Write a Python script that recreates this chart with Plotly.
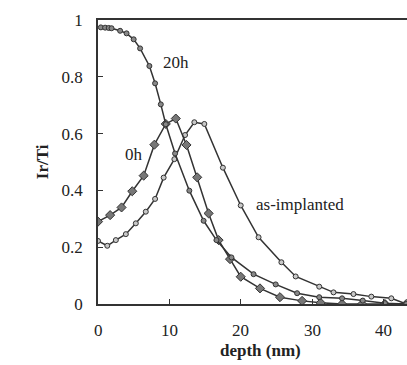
import plotly.graph_objects as go

# depth (nm) and Ir/Ti ratio for each series
x_asimp = [0, 1.3, 2.5, 3.9, 5.3, 6.7, 8.0, 9.2, 10.7, 12.2, 13.5, 14.9, 17.5, 20.0, 22.5, 25.7, 27.7, 31.0, 33.0, 35.8, 38.3, 41.1, 43.2]
y_asimp = [0.222, 0.205, 0.225, 0.246, 0.284, 0.325, 0.37, 0.445, 0.51, 0.595, 0.64, 0.634, 0.48, 0.347, 0.235, 0.147, 0.097, 0.061, 0.041, 0.035, 0.026, 0.02, 0.0]

x_0h = [0, 1.7, 3.3, 4.8, 6.4, 7.9, 9.5, 10.9, 12.4, 13.9, 15.5, 16.9, 18.5, 20.0, 22.7, 25.5, 28.6, 31.2, 34.2, 37.0, 40.2, 43.2]
y_0h = [0.29, 0.313, 0.34, 0.397, 0.452, 0.561, 0.634, 0.653, 0.56, 0.446, 0.319, 0.225, 0.158, 0.096, 0.055, 0.024, 0.011, 0.004, 0.0, 0.0, 0.0, 0.0]

x_20h = [0.4, 1.0, 1.5, 1.9, 3.1, 4.0, 5.0, 5.9, 7.2, 8.0, 8.8, 9.5, 10.8, 12.8, 14.8, 16.6, 18.7, 21.8, 24.9, 27.9, 31.0, 34.2, 37.1, 40.2, 43.2]
y_20h = [0.974, 0.973, 0.972, 0.971, 0.962, 0.953, 0.932, 0.90, 0.838, 0.777, 0.703, 0.633, 0.53, 0.399, 0.293, 0.225, 0.164, 0.105, 0.069, 0.038, 0.024, 0.02, 0.012, 0.003, 0.0]

x_ticks = [0, 10, 20, 30, 40]
x_ticktext = ["0", "10", "20", "30", "40"]
y_ticks = [0, 0.2, 0.4, 0.6, 0.8, 1]
y_ticktext = ["0", "0.2", "0.4", "0.6", "0.8", "1"]

LINE = "#333333"
SERIF = "Liberation Serif"
FS = 17

fig = go.Figure()
fig.add_trace(go.Scatter(
    x=x_asimp, y=y_asimp, mode="lines+markers", name="as-implanted",
    line=dict(color=LINE, width=1.5),
    marker=dict(symbol="circle", size=5, color="#c8c8c8", line=dict(color=LINE, width=1))))
fig.add_trace(go.Scatter(
    x=x_0h, y=y_0h, mode="lines+markers", name="0h",
    line=dict(color=LINE, width=1.5),
    marker=dict(symbol="diamond", size=7, color="#777777", line=dict(color=LINE, width=1))))
fig.add_trace(go.Scatter(
    x=x_20h, y=y_20h, mode="lines+markers", name="20h",
    line=dict(color=LINE, width=1.5),
    marker=dict(symbol="circle", size=5, color="#888888", line=dict(color=LINE, width=1))))

annotations = [
    dict(x=10.9, y=0.852, xref="x", yref="y", text="20h", showarrow=False,
         font=dict(family=SERIF, size=FS)),
    dict(x=5.0, y=0.525, xref="x", yref="y", text="0h", showarrow=False,
         font=dict(family=SERIF, size=FS)),
    dict(x=28.3, y=0.349, xref="x", yref="y", text="as-implanted", showarrow=False,
         font=dict(family=SERIF, size=FS)),
    dict(x=-0.218, y=0.5, xref="paper", yref="paper", text="<b>Ir/Ti</b>",
         showarrow=False, textangle=-90, font=dict(family=SERIF, size=FS)),
    dict(x=0.525, y=-0.162, xref="paper", yref="paper", text="<b>depth (nm)</b>",
         showarrow=False, yanchor="middle", font=dict(family=SERIF, size=FS)),
]
# x tick labels placed below the axis
for v, t in zip(x_ticks, x_ticktext):
    annotations.append(dict(x=v, y=-0.092, xref="x", yref="paper", text=t,
                            showarrow=False, yanchor="middle",
                            font=dict(family=SERIF, size=FS)))

fig.update_layout(
    width=407, height=365,
    margin=dict(l=98, r=0, t=20, b=61),
    paper_bgcolor="white", plot_bgcolor="white",
    showlegend=False,
    font=dict(family=SERIF, size=FS, color="#222222"),
    xaxis=dict(range=[0, 43.3], tickvals=x_ticks, showticklabels=False,
               ticks="inside", ticklen=5,
               tickcolor=LINE, showline=True, linecolor=LINE, linewidth=1.5,
               mirror=True, showgrid=False, zeroline=False),
    yaxis=dict(range=[0, 1], tickvals=y_ticks, ticktext=y_ticktext,
               ticks="inside", ticklen=5, tickcolor=LINE, showline=True,
               linecolor=LINE, linewidth=1.5, showgrid=False, zeroline=False,
               ticklabelstandoff=10, tickfont=dict(family=SERIF, size=FS)),
    annotations=annotations,
)

fig.write_html("out.html")
